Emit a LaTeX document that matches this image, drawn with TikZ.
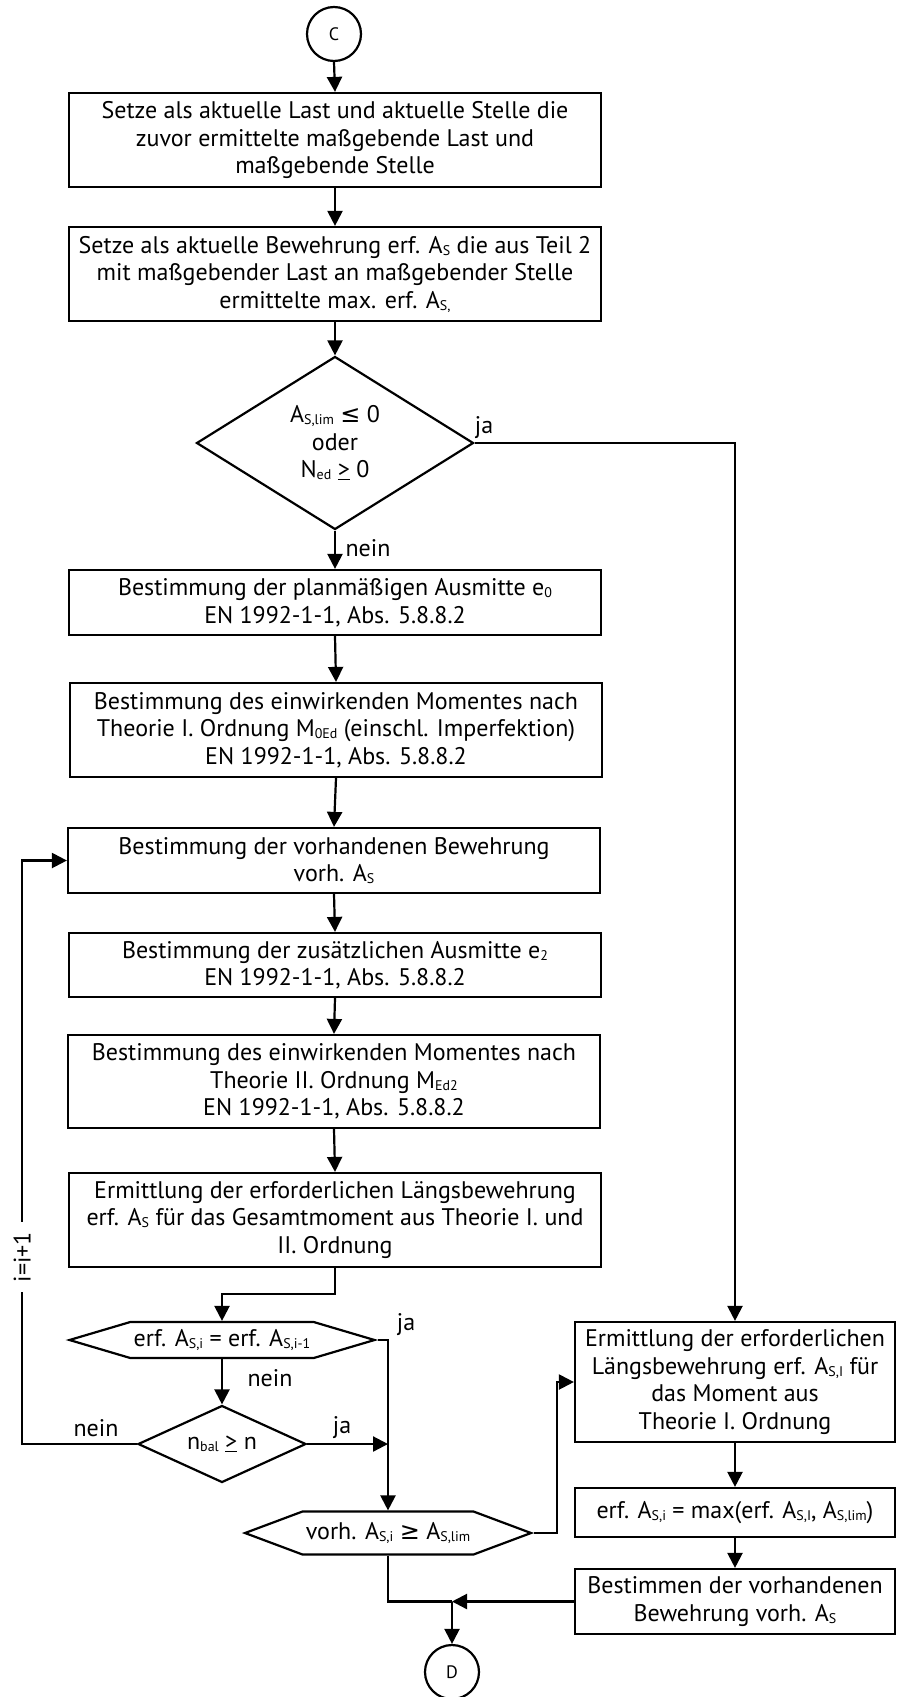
\documentclass[tikz,border=0pt]{standalone}
\usepackage{fontspec}
\setmainfont{PT Sans}
\newfontfamily\zeichen{DejaVu Sans}
\usetikzlibrary{arrows.meta,shapes.geometric,shapes.symbols}
\newcommand{\tief}[1]{\raisebox{-2pt}{\fontsize{14pt}{14pt}\selectfont #1}}
\begin{document}
\begin{tikzpicture}[
  x=1pt, y=-1pt,
  line width=2.2pt,
  pfeil/.style={-{Triangle[length=15pt,width=15pt]}},
  kasten/.style={draw, rectangle, minimum width=532pt, align=center, inner sep=2pt},
  raute/.style={draw, diamond, align=center, inner sep=0pt},
  sechseck/.style={draw, signal, signal to=west and east, align=center, inner sep=2pt},
  kreis/.style={draw, circle, minimum size=54pt, inner sep=0pt, font=\fontsize{18pt}{20pt}\selectfont},
  marke/.style={inner sep=0pt},
  zaehler/.style={rotate=90, fill=white, inner xsep=10pt, inner ysep=0pt},
  every node/.style={font=\fontsize{24pt}{27.5pt}\selectfont}
]
  \useasboundingbox (0,0) rectangle (897,1697);
  % ---- linke Spalte ----
  \node[kreis] (C) at (334,34) {C};
  \node[kasten, minimum height=94pt] (b1) at (335,140)
    {Setze als aktuelle Last und aktuelle Stelle die\\zuvor ermittelte maßgebende Last und\\maßgebende Stelle};
  \node[kasten, minimum height=94pt] (b2) at (335,274)
    {Setze als aktuelle Bewehrung erf. A\tief{S} die aus Teil 2\\mit maßgebender Last an maßgebender Stelle\\ermittelte max. erf. A\tief{S,}};
  \node[raute, minimum width=277pt, minimum height=173pt, aspect=1.6] (d1) at (335,443)
    {A\tief{S,lim} {\zeichen ≤} 0\\oder\\N\tief{ed} \underline{>} 0};
  \node[kasten, minimum height=65pt] (b3) at (335,602.5)
    {Bestimmung der planmäßigen Ausmitte e\tief{0}\\EN 1992-1-1, Abs. 5.8.8.2};
  \node[kasten, minimum height=94pt] (b4) at (336,730)
    {Bestimmung des einwirkenden Momentes nach\\Theorie I. Ordnung M\tief{0Ed} (einschl. Imperfektion)\\EN 1992-1-1, Abs. 5.8.8.2};
  \node[kasten, minimum height=65pt] (b5) at (334,860.5)
    {Bestimmung der vorhandenen Bewehrung\\vorh. A\tief{S}};
  \node[kasten, minimum height=64pt] (b6) at (335,965)
    {Bestimmung der zusätzlichen Ausmitte e\tief{2}\\EN 1992-1-1, Abs. 5.8.8.2};
  \node[kasten, minimum height=93pt] (b7) at (334,1081.5)
    {Bestimmung des einwirkenden Momentes nach\\Theorie II. Ordnung M\tief{Ed2}\\EN 1992-1-1, Abs. 5.8.8.2};
  \node[kasten, minimum height=94pt] (b8) at (335,1220)
    {Ermittlung der erforderlichen Längsbewehrung\\erf. A\tief{S} für das Gesamtmoment aus Theorie I. und\\II. Ordnung};
  % ---- Iteration ----
  \node[sechseck, minimum width=305pt, minimum height=36pt, signal pointer angle=33] (h1) at (222,1340)
    {erf. A\tief{S,i} = erf. A\tief{S,i-1}};
  \node[raute, minimum width=168pt, minimum height=77pt, aspect=2.2] (d2) at (222,1444)
    {n\tief{bal} \underline{>} n};
  \node[sechseck, minimum width=286pt, minimum height=43pt, signal pointer angle=41] (h2) at (388,1533)
    {vorh. A\tief{S,i} {\zeichen ≥} A\tief{S,lim}};
  % ---- rechte Spalte ----
  \node[kasten, minimum width=320pt, minimum height=120pt] (r1) at (735,1382)
    {Ermittlung der erforderlichen\\Längsbewehrung erf. A\tief{S,I} für\\das Moment aus\\Theorie I. Ordnung};
  \node[kasten, minimum width=320pt, minimum height=49pt] (r2) at (735,1512.5)
    {erf. A\tief{S,i} = max(erf. A\tief{S,I}, A\tief{S,lim})};
  \node[kasten, minimum width=320pt, minimum height=65pt] (r3) at (735,1601.5)
    {Bestimmen der vorhandenen\\Bewehrung vorh. A\tief{S}};
  \node[kreis] (D) at (452,1672) {D};
  \coordinate (ecke) at (22,1444);
  \coordinate (mix) at (D.north |- r3.west);
  % ---- Pfeile ----
  \draw[pfeil] (C.south) -- (b1.north);
  \draw[pfeil] (b1.south) -- (b2.north);
  \draw[pfeil] (b2.south) -- (d1.north);
  \draw[pfeil] (d1.south) -- (b3.north);
  \draw[pfeil] (b3.south) -- (b4.north);
  \draw[pfeil] (b4.south) -- (b5.north);
  \draw[pfeil] (b5.south) -- (b6.north);
  \draw[pfeil] (b6.south) -- (b7.north);
  \draw[pfeil] (b7.south) -- (b8.north);
  \draw[pfeil] (b8.south) -- ++(0,26) -| (h1.north);
  \draw[pfeil] (h1.south) -- (d2.north);
  \draw[pfeil] (h1.east) -| (h2.north);
  \draw[pfeil] (d2.east) -- (d2.east -| h2.north);
  \draw[pfeil] (d2.west) -- (ecke) -- node[zaehler, pos=0.32] (zl) {i=i+1} (ecke |- b5.west) -- (b5.west);
  \draw[pfeil] (d1.east) -| (r1.north);
  \draw[pfeil] (h2.east) -- ++(23,0) |- (r1.west);
  \draw[pfeil] (r1.south) -- (r2.north);
  \draw[pfeil] (r2.south) -- (r3.north);
  \draw[pfeil] (r3.west) -- (mix);
  \draw (h2.south) |- (mix);
  \draw[pfeil] (mix) -- (D.north);
  % ---- Beschriftungen ----
  \node[marke] (ja1) at (484,428) {ja};
  \node[marke] (nein1) at (368,548) {nein};
  \node[marke] (ja2) at (406,1325) {ja};
  \node[marke] (nein2) at (270,1378) {nein};
  \node[marke] (nein3) at (96,1428) {nein};
  \node[marke] (ja3) at (342,1428) {ja};
\end{tikzpicture}
\end{document}
